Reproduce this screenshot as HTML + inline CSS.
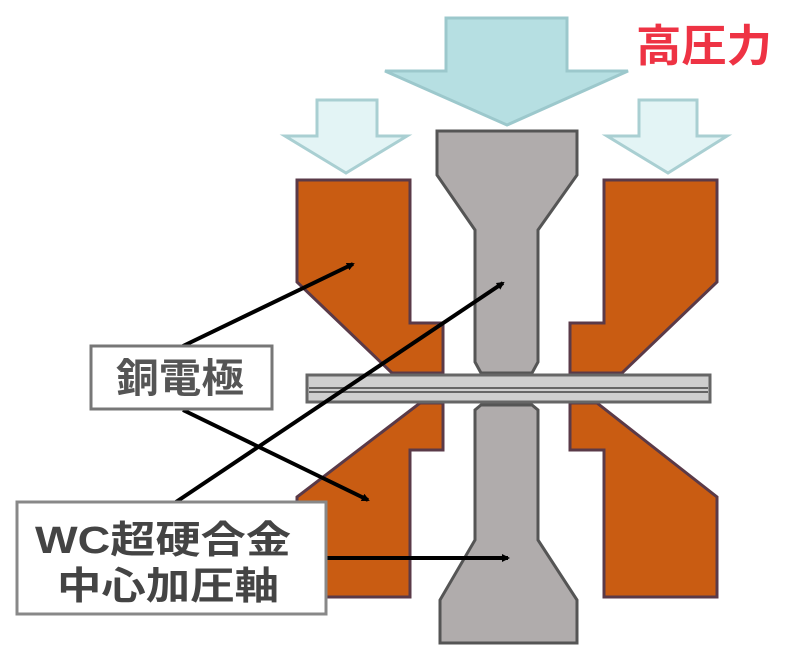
<!DOCTYPE html>
<html><head><meta charset="utf-8"><style>
html,body{margin:0;padding:0;background:#fff;width:800px;height:654px;overflow:hidden}
svg{display:block}
</style></head><body>
<svg width="800" height="654" viewBox="0 0 800 654" xmlns="http://www.w3.org/2000/svg">
<defs>
<marker id="ah" markerWidth="8" markerHeight="8" refX="6" refY="4" orient="auto" markerUnits="userSpaceOnUse" viewBox="0 0 8 8">
<path d="M0,0 L8,4 L0,8 z" fill="#000"/>
</marker>
</defs>
<polygon points="446,18 567,18 567,71 628,71 507,125 385,71 446,71" fill="#b6dfe2" stroke="#9cc8cc" stroke-width="3"/>
<polygon points="317,100 377,100 377,136 407,136 346,173 285,136 317,136" fill="#e3f4f5" stroke="#a9cfd2" stroke-width="3"/>
<polygon points="639,100 697,100 697,136 727,136 668,173 607,136 639,136" fill="#e3f4f5" stroke="#a9cfd2" stroke-width="3"/>
<text x="636" y="61" font-family="Liberation Sans, 'Noto Sans CJK JP', sans-serif" font-size="44" font-weight="bold" fill="#ee3344" textLength="136" lengthAdjust="spacingAndGlyphs">高圧力</text>
<g fill="#c95c12" stroke="#5a3a48" stroke-width="3">
<polygon points="297,180 410,180 410,323 443,323 443,373 392,373 297,282"/>
<polygon points="297,597 410,597 410,450 443,450 443,403 420,403 297,497"/>
<polygon points="717,180 604,180 604,323 570,323 570,373 622,373 717,282"/>
<polygon points="717,597 604,597 604,450 570,450 570,403 597,403 717,497"/>
</g>
<g fill="#b0acac" stroke="#555" stroke-width="3">
<polygon points="437,131 577,131 577,175 538,230 538,362 532,373 481,373 475,362 475,230 437,175"/>
<polygon points="481,405 532,405 538,410 538,540 577,600 577,643 440,643 440,600 475,540 475,410"/>
</g>
<rect x="307" y="375" width="403" height="27" fill="#cfcfcf" stroke="#666" stroke-width="3"/>
<line x1="309" y1="388" x2="708" y2="388" stroke="#666" stroke-width="2"/>
<line x1="309" y1="392" x2="708" y2="392" stroke="#666" stroke-width="2"/>
<g stroke="#000" stroke-width="4" fill="none">
<line x1="183" y1="346" x2="353" y2="264" marker-end="url(#ah)"/>
<line x1="183" y1="410" x2="368" y2="500" marker-end="url(#ah)"/>
<line x1="176" y1="502" x2="503" y2="283" marker-end="url(#ah)"/>
<line x1="326" y1="558" x2="508" y2="558" marker-end="url(#ah)"/>
</g>
<rect x="91" y="346" width="181" height="63" fill="#fff" stroke="#777" stroke-width="3"/>
<text x="180" y="392" text-anchor="middle" font-family="Liberation Sans, 'Noto Sans CJK JP', sans-serif" font-size="40" font-weight="bold" fill="#555" textLength="128" lengthAdjust="spacingAndGlyphs">銅電極</text>
<rect x="17" y="502" width="309" height="112" fill="#fff" stroke="#888" stroke-width="3"/>
<text x="163" y="553" text-anchor="middle" font-family="Liberation Sans, 'Noto Sans CJK JP', sans-serif" font-size="38" font-weight="bold" fill="#444" textLength="256" lengthAdjust="spacingAndGlyphs">WC超硬合金</text>
<text x="168" y="599" text-anchor="middle" font-family="Liberation Sans, 'Noto Sans CJK JP', sans-serif" font-size="38" font-weight="bold" fill="#444" textLength="222" lengthAdjust="spacingAndGlyphs">中心加圧軸</text>
</svg>
</body></html>
